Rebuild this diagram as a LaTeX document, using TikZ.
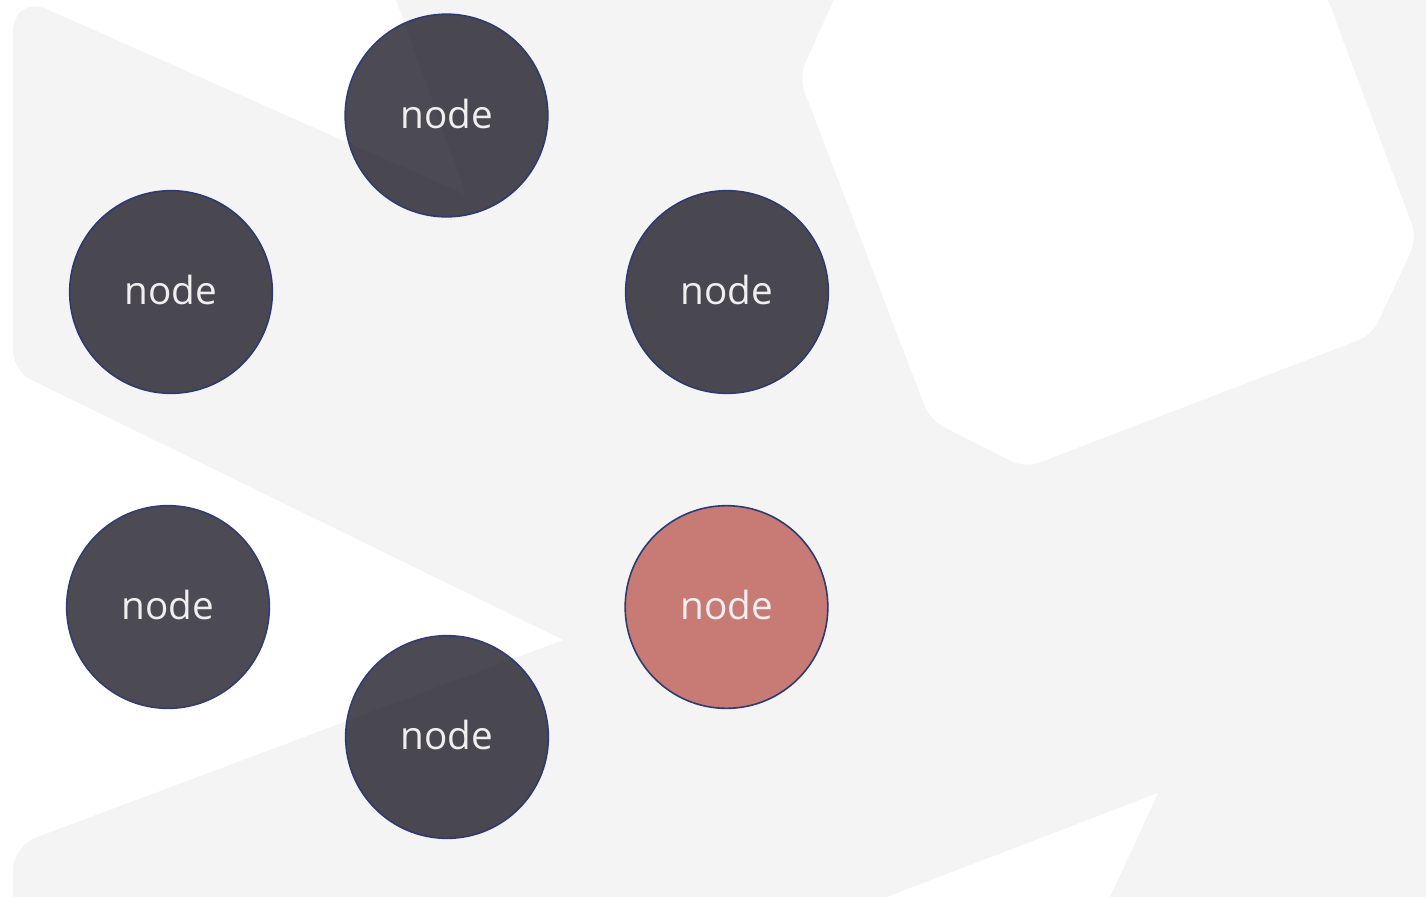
\documentclass[tikz,border=0pt]{standalone}
\usepackage{fontspec}
\setmainfont{Open Sans}
\definecolor{paper}{HTML}{F4F4F4}
\definecolor{slate}{HTML}{49474F}
\definecolor{rose}{HTML}{C77B74}
\definecolor{rim}{HTML}{2E3A74}
\definecolor{label}{HTML}{F0EEEE}
\tikzset{
  ball/.style={circle, draw=rim, line width=1.2pt, fill=slate,
    minimum size=152pt, inner sep=0pt, text=label,
    font=\fontsize{29}{29}\selectfont, text height=19pt, text depth=0pt},
  hot/.style={ball, fill=rose},
  % light cut-outs laid over the grey ground
  leftcut/.pic={
    \fill (0,0) -- (396,0) -- (466,195) -- (47.7,9.4)
      .. controls (28.6,0.9) and (13,11.1) .. (13,32) -- (13,351)
      .. controls (13,362) and (21.1,375) .. (31,379.8) -- (563,640)
      -- (35.5,837.6) .. controls (23.1,842.2) and (13,856.8) .. (13,870)
      -- (13,910) -- (-10,910) -- (-10,-10) -- (0,-10) -- cycle;
  },
  hexcut/.pic={
    \fill[rounded corners=11pt] (843,-20) -- (799,77) -- (930,420)
      -- (1025,468) -- (1372,335) -- (1417,238) -- (1320.5,-20) -- cycle;
  },
  tricut/.pic={
    \fill (853,910) -- (1158,793) -- (1104,910) -- cycle;
  }
}
\begin{document}
\begin{tikzpicture}[x=0.75pt, y=-0.75pt]
  \useasboundingbox (0,0) rectangle (1426,897);
  \clip (0,0) rectangle (1426,897);
  \fill[paper] (0,0) rectangle (1426,897);

  % white ground shapes
  \begin{scope}[white]
    \pic {leftcut}; \pic {hexcut}; \pic {tricut};
  \end{scope}

  % the six circles
  \node[ball] (top)   at (446.5,115.5) {node};
  \node[ball] (ul)    at (171,292)     {node};
  \node[ball] (ur)    at (727,292)     {node};
  \node[ball] (ll)    at (168,607)     {node};
  \node[ball] (bot)   at (447,737)     {node};
  \node[hot]  (lr)    at (726.5,607)   {node};

  % faint sheen of the white shapes over the circles
  \begin{scope}[white, fill opacity=0.018]
    \pic {leftcut}; \pic {hexcut}; \pic {tricut};
  \end{scope}
\end{tikzpicture}
\end{document}
